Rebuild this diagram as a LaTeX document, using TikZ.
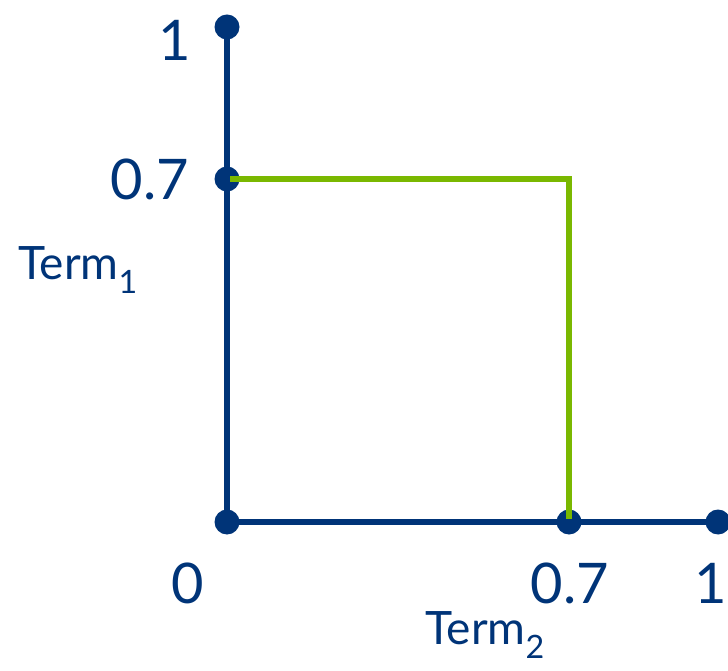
\documentclass[tikz,border=0pt]{standalone}
\usepackage{fontspec}
\setmainfont{Lato}
\usetikzlibrary{positioning}
\definecolor{axisnavy}{HTML}{003478}
\definecolor{boxgreen}{HTML}{7AB800}

\begin{document}
\begin{tikzpicture}[
  x=1pt, y=1pt,
  dot/.style={circle, fill=axisnavy, inner sep=0pt, minimum size=25pt},
  axisline/.style={line width=6.5pt, axisnavy},
  boxline/.style={line width=5.5pt, boxgreen},
  tick/.style={text=axisnavy, font=\fontsize{56}{56}\selectfont, inner sep=0pt},
  axlabel/.style={text=axisnavy, font=\fontsize{46}{46}\selectfont, inner sep=0pt}
]
  \useasboundingbox (0,0) rectangle (728,670);

  % axis points
  \node[dot] (origin) at (227,148) {};
  \node[dot] (ytop) at (227,643) {};
  \node[dot] (yseven) at (227,491) {};
  \node[dot] (xseven) at (569,148) {};
  \node[dot] (xright) at (718,148) {};
  \coordinate (corner) at (569,491);

  % green region
  \draw[boxline] (yseven.center) -- (corner) -- (xseven.center);

  % axes
  \draw[axisline] (ytop.center) -- (origin.center) -- (xright.center);

  % tick labels
  \node[tick] (labzero) at (188,87) {0};
  \node[tick] (labxseven) at (570,87) {0.7};
  \node[tick, anchor=east] (labxone) at (727,87) {1};
  \node[tick] (labyseven) at (150,491) {0.7};
  \node[tick] (labyone) at (175,630) {1};

  % axis names
  \node[axlabel, anchor=base] (termtwo) at (485,26) {Term\textsubscript{2}};
  \node[axlabel] (termone) at (78,400) {Term\textsubscript{1}};
\end{tikzpicture}
\end{document}
